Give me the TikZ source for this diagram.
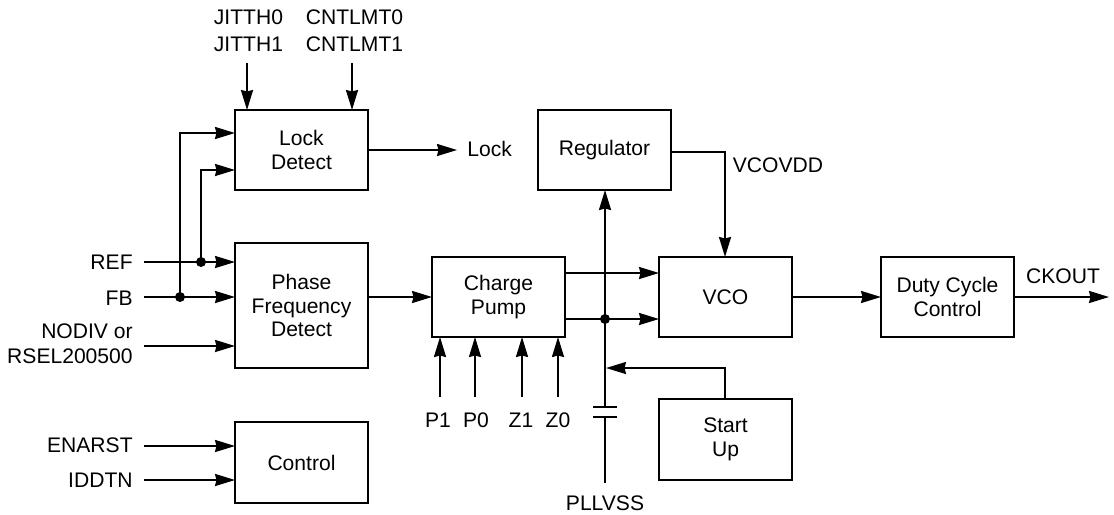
\documentclass[tikz,border=0pt]{standalone}
\usepackage{fontspec}
\setmainfont{Liberation Sans}
\usetikzlibrary{arrows.meta}
\tikzset{
    blockbox/.style={draw, line width=1.15pt, minimum width=2.66cm, minimum height=1.6cm, align=center, inner sep=0pt, outer sep=0pt},
    wire/.style={line width=1.15pt},
    sig/.style={wire, -{Stealth[length=0.4cm, width=0.24cm, inset=0.03cm]}},
    dot/.style={circle, fill=black, minimum size=0.2cm, inner sep=0pt},
    lbl/.style={inner sep=0pt, align=center},
    lblright/.style={inner sep=0pt, anchor=east, align=right}
}
\begin{document}
\begin{tikzpicture}[x=0.02cm, y=-0.02cm, font=\fontsize{12}{13.6}\selectfont]
    \useasboundingbox (0,0) rectangle (1114,514);
    % Blocks
    \node[blockbox] (lock) at (301.5,150) {Lock\\Detect};
    \node[blockbox, minimum height=2.5cm] (pfd) at (301.5,305.5) {Phase\\Frequency\\Detect};
    \node[blockbox, minimum height=1.62cm] (ctrl) at (301.5,462.5) {Control};
    \node[blockbox] (pump) at (498.5,297) {Charge\\Pump};
    \node[blockbox] (reg) at (604.5,150) {Regulator};
    \node[blockbox] (vco) at (725.5,297) {VCO};
    \node[blockbox] (duty) at (947.5,297) {Duty Cycle\\Control};
    \node[blockbox, minimum height=1.62cm] (start) at (725.5,439.5) {Start\\Up};
    % Labels
    \node[lbl] (jitth) at (248.5,30.5) {JITTH0\\[1.7pt]JITTH1};
    \node[lbl] (cntlmt) at (354.5,30.5) {CNTLMT0\\[1.7pt]CNTLMT1};
    \node[lbl, anchor=west] (locklbl) at (467,149) {Lock};
    \node[lblright] (reflbl) at (133,262) {REF};
    \node[lblright] (fblbl) at (133,298) {FB};
    \node[lblright] (nodivlbl) at (133,344) {NODIV or\\[0.6pt]RSEL200500};
    \node[lblright] (enarstlbl) at (133,445) {ENARST};
    \node[lblright] (iddtnlbl) at (133,480) {IDDTN};
    \node[lbl] (vcovdd) at (778,165) {VCOVDD};
    \node[lbl] (ckout) at (1063,276) {CKOUT};
    \node[lbl] (pone) at (438,420) {P1};
    \node[lbl] (pzero) at (476,420) {P0};
    \node[lbl] (zone) at (521,420) {Z1};
    \node[lbl] (zzero) at (558,420) {Z0};
    \node[lbl] (pllvss) at (605,503) {PLLVSS};
    % Lock detect inputs and output
    \coordinate (jittha) at (247,63);
    \coordinate (cntlmta) at (352,63);
    \coordinate (locka) at (235,133);
    \coordinate (lockb) at (235,170);
    \coordinate (lockout) at (457,150);
    \draw[sig] (jittha) -- (jittha |- lock.north);
    \draw[sig] (cntlmta) -- (cntlmta |- lock.north);
    \draw[sig] (lock.east) -- (lockout);
    % Phase detect inputs
    \coordinate (refin) at (144,262);
    \coordinate (fbin) at (144,297);
    \coordinate (nodivin) at (144,346);
    \node[dot] (refdot) at (201,262) {};
    \node[dot] (fbdot) at (180,297) {};
    \draw[sig] (refin) -- (refin -| pfd.west);
    \draw[sig] (fbin) -- (fbin -| pfd.west);
    \draw[sig] (nodivin) -- (nodivin -| pfd.west);
    \draw[sig] (fbdot.center) |- (locka);
    \draw[sig] (refdot.center) |- (lockb);
    % Control inputs
    \coordinate (enarstin) at (144,446);
    \coordinate (iddtnin) at (144,480);
    \draw[sig] (enarstin) -- (enarstin -| ctrl.west);
    \draw[sig] (iddtnin) -- (iddtnin -| ctrl.west);
    % Forward path
    \draw[sig] (pfd.east |- pump.west) -- (pump.west);
    \coordinate (vcoa) at (659,273);
    \coordinate (vcob) at (659,319);
    \node[dot] (pumpdot) at (605,319) {};
    \draw[sig] (vcoa -| pump.east) -- (vcoa);
    \draw[sig] (vcob -| pump.east) -- (vcob);
    \draw[sig] (vco.east) -- (duty.west);
    \coordinate (dutyout) at (1109,297);
    \draw[sig] (duty.east) -- (dutyout);
    % Charge pump inputs
    \coordinate (ponein) at (440,397);
    \coordinate (pzeroin) at (475,397);
    \coordinate (zonein) at (522,397);
    \coordinate (zzeroin) at (558,397);
    \draw[sig] (ponein) -- (ponein |- pump.south);
    \draw[sig] (pzeroin) -- (pzeroin |- pump.south);
    \draw[sig] (zonein) -- (zonein |- pump.south);
    \draw[sig] (zzeroin) -- (zzeroin |- pump.south);
    % Regulator and capacitor
    \coordinate (captop) at (605,407);
    \coordinate (capbot) at (605,417);
    \coordinate (vssend) at (605,483);
    \coordinate (startin) at (606,368);
    \coordinate (regout) at (671,152);
    \coordinate (vddin) at (725,257);
    \coordinate (startout) at (725,399);
    \draw[sig] (captop) -- (captop |- reg.south);
    \draw[wire] (capbot) -- (vssend);
    \draw[wire] ([xshift=-12*0.02cm]captop) -- ([xshift=12*0.02cm]captop);
    \draw[wire] ([xshift=-12*0.02cm]capbot) -- ([xshift=12*0.02cm]capbot);
    \draw[sig] (regout) -| (vddin);
    \draw[sig] (startout) |- (startin);
\end{tikzpicture}
\end{document}
